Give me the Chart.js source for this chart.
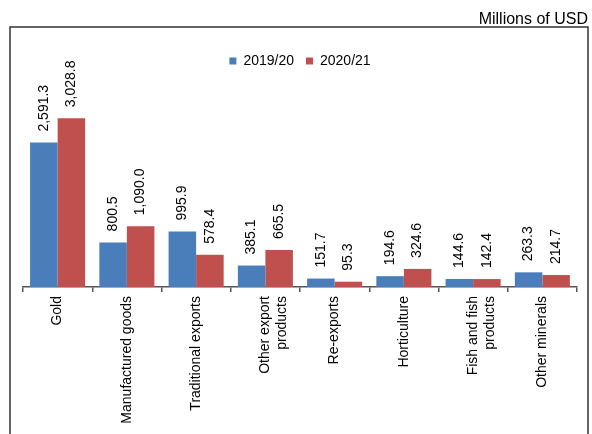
<!DOCTYPE html>
<html><head><meta charset="utf-8">
<script src="https://cdn.jsdelivr.net/npm/chart.js@4.4.1/dist/chart.umd.min.js"></script>
<style>html,body{margin:0;padding:0;background:#fff}#wrap{width:592px;height:434px;position:relative}</style>
</head><body><div id="wrap"><canvas id="c" width="592" height="434"></canvas></div>
<script>
const categories = [['Gold'], ['Manufactured goods'], ['Traditional exports'], ['Other export', 'products'], ['Re-exports'], ['Horticulture'], ['Fish and fish', 'products'], ['Other minerals']];
const series2019 = [2591.3, 800.5, 995.9, 385.1, 151.7, 194.6, 144.6, 263.3];
const series2020 = [3028.8, 1090.0, 578.4, 665.5, 95.3, 324.6, 142.4, 214.7];
const seriesNames = ['2019/20', '2020/21'];
const unitLabel = 'Millions of USD';

const FONT = "'Liberation Sans', Arial, Helvetica, sans-serif";
Chart.defaults.font.family = FONT;
Chart.defaults.color = '#000';

const fmt = v => v.toLocaleString('en-US', {minimumFractionDigits: 1, maximumFractionDigits: 1});

const decor = {
  id: 'decor',
  beforeDraw(chart) {
    const ctx = chart.ctx;
    ctx.save();
    ctx.fillStyle = '#fff';
    ctx.fillRect(0, 0, chart.width, chart.height);
    ctx.restore();
  },
  afterDraw(chart) {
    const ctx = chart.ctx;
    ctx.save();
    ctx.strokeStyle = '#333';
    ctx.lineWidth = 1.5;
    ctx.strokeRect(10, 27, 578, 500);
    ctx.fillStyle = '#000';
    ctx.font = '16px ' + FONT;
    ctx.textAlign = 'right';
    ctx.textBaseline = 'alphabetic';
    ctx.fillText(unitLabel, 588, 24);
    ctx.restore();
  },
  afterDatasetsDraw(chart) {
    const ctx = chart.ctx;
    ctx.save();
    ctx.font = '14px ' + FONT;
    ctx.fillStyle = '#000';
    ctx.textAlign = 'left';
    ctx.textBaseline = 'middle';
    chart.data.datasets.forEach((ds, di) => {
      const meta = chart.getDatasetMeta(di);
      meta.data.forEach((bar, i) => {
        ctx.save();
        ctx.translate(bar.x, bar.y - 11);
        ctx.rotate(-Math.PI / 2);
        ctx.fillText(fmt(ds.data[i]), 0, 0);
        ctx.restore();
      });
    });
    ctx.restore();
  }
};

new Chart(document.getElementById('c'), {
  type: 'bar',
  data: {
    labels: categories,
    datasets: [
      {label: seriesNames[0], data: series2019, backgroundColor: '#4A7EBB', borderWidth: 0},
      {label: seriesNames[1], data: series2020, backgroundColor: '#C0504D', borderWidth: 0}
    ]
  },
  options: {
    responsive: false,
    animation: false,
    devicePixelRatio: 1,
    layout: {padding: {top: 42, left: 23, right: 15, bottom: 0}},
    datasets: {bar: {categoryPercentage: 0.795, barPercentage: 1.0}},
    plugins: {
      legend: {
        position: 'top',
        labels: {boxWidth: 7, boxHeight: 7, padding: 12, font: {size: 14}, color: '#000'}
      },
      tooltip: {enabled: false},
      title: {display: false}
    },
    scales: {
      x: {
        afterFit(scale) { scale.height = 147; },
        border: {display: true, color: '#555', width: 1.5},
        grid: {display: true, drawOnChartArea: false, drawTicks: true, tickLength: 5, color: '#555', lineWidth: 1.5, offset: true},
        ticks: {minRotation: 90, maxRotation: 90, autoSkip: false, padding: 4, font: {size: 14}, color: '#000'}
      },
      y: {
        display: false,
        min: 0,
        max: 3750
      }
    }
  },
  plugins: [decor]
});
</script>
</body></html>
